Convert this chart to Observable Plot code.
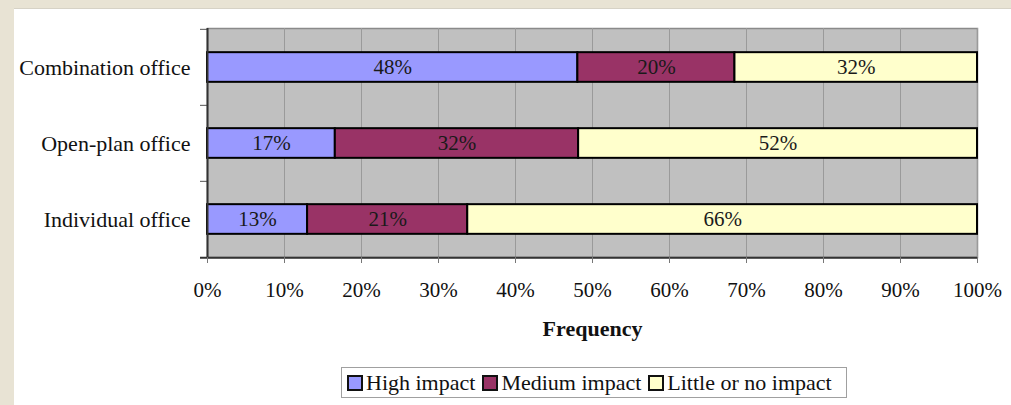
<!DOCTYPE html>
<html>
<head>
<meta charset="utf-8">
<script src="https://cdn.jsdelivr.net/npm/d3@7"></script>
<script src="https://cdn.jsdelivr.net/npm/@observablehq/plot@0.6"></script>
<style>
  html, body { margin: 0; padding: 0; width: 1011px; height: 405px; overflow: hidden; background: #e8e3d4; }
  #panel { position: absolute; left: 14px; top: 8px; width: 997px; height: 397px; background: #ffffff; border-top: 1px solid #d6d2c6; box-sizing: border-box; }
  #chart { position: absolute; left: 0; top: -1px; }
  #legend { position: absolute; left: 327px; top: 358px; width: 506px; height: 31px; box-sizing: border-box;
            border: 1px solid #a0a0a0; display: flex; align-items: center; padding-left: 5px;
            font-family: "Liberation Serif", "Times New Roman", serif; font-size: 22px; color: #111; }
  .item { display: flex; align-items: center; margin-right: 7px; }
  .sw { width: 12px; height: 12px; border: 2px solid #111; margin-right: 3px; }
</style>
</head>
<body>
<div id="panel"><div id="chart"></div><div id="legend"></div></div>
<script>
const offices = ["Combination office", "Open-plan office", "Individual office"];
const impacts = ["High impact", "Medium impact", "Little or no impact"];
const colors = ["#9999ff", "#993366", "#ffffcc"];
const highValues = [48.1, 16.6, 13.0];
const mediumValues = [20.4, 31.6, 20.8];
const littleValues = [31.5, 51.8, 66.2];
const highLabels = ["48%", "17%", "13%"];
const mediumLabels = ["20%", "32%", "21%"];
const littleLabels = ["32%", "52%", "66%"];
const xTicks = [0, 10, 20, 30, 40, 50, 60, 70, 80, 90, 100];
const axisTitle = "Frequency";

const series = [highValues, mediumValues, littleValues];
const seriesLabels = [highLabels, mediumLabels, littleLabels];
const data = [];
offices.forEach((o, i) => {
  impacts.forEach((imp, j) => {
    data.push({office: o, impact: imp, value: series[j][i], label: seriesLabels[j][i]});
  });
});

const height = 345, marginTop = 20, marginBottom = 96;
const band = (height - marginTop - marginBottom) / offices.length;
const barInset = (band - 30) / 2;

const chart = Plot.plot({
  width: 997,
  height,
  marginLeft: 193,
  marginRight: 34,
  marginTop,
  marginBottom,
  style: {fontFamily: "'Liberation Serif', 'Times New Roman', serif", fontSize: "21px", color: "#111", background: "transparent"},
  x: {domain: [0, 100]},
  y: {domain: offices, padding: 0},
  color: {domain: impacts, range: colors},
  marks: [
    Plot.frame({fill: "#c0c0c0", stroke: "#8a8a8a", strokeWidth: 1.5}),
    Plot.ruleX(xTicks, {stroke: "#9a9a9a", strokeWidth: 1}),
    Plot.barX(data, Plot.stackX({x: "value", y: "office", fill: "impact", stroke: "#000", strokeWidth: 2,
      insetTop: barInset, insetBottom: barInset})),
    Plot.text(data, Plot.stackX({x: "value", y: "office", z: "impact", text: "label", fill: "#1a1a1a", fontSize: 21})),
    Plot.ruleY(offices, {y: d => d, dy: -band / 2, x1: 0, x2: 0, insetLeft: -7, stroke: "#555", strokeWidth: 1}),
    Plot.ruleY([offices[offices.length - 1]], {y: d => d, dy: band / 2, x1: 0, x2: 100, insetLeft: -7, stroke: "#333", strokeWidth: 2}),
    Plot.ruleX([0], {stroke: "#333", strokeWidth: 2}),
    Plot.axisX({ticks: xTicks, tickFormat: d => d + "%", tickSize: 6, tickPadding: 19, stroke: "#777", label: null, fontSize: 21}),
    Plot.axisY({tickSize: 0, tickPadding: 17, label: null, fontSize: 22}),
    Plot.text([axisTitle], {frameAnchor: "bottom", lineAnchor: "top", dy: 63, fontWeight: "bold", fontSize: 22, fill: "#111"})
  ]
});
document.getElementById("chart").appendChild(chart);

const legend = document.getElementById("legend");
impacts.forEach((imp, j) => {
  const item = document.createElement("div");
  item.className = "item";
  const sw = document.createElement("div");
  sw.className = "sw";
  sw.style.background = colors[j];
  const t = document.createElement("span");
  t.textContent = imp;
  item.appendChild(sw);
  item.appendChild(t);
  legend.appendChild(item);
});
</script>
</body>
</html>
